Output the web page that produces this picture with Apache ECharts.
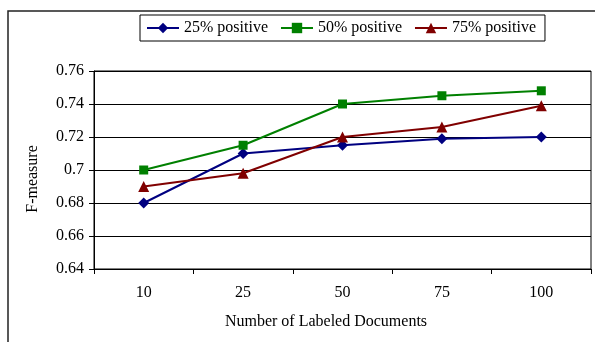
<!DOCTYPE html>
<html>
<head>
<meta charset="utf-8">
<script src="https://cdn.jsdelivr.net/npm/echarts@6/dist/echarts.min.js"></script>
<style>
  html, body { margin: 0; padding: 0; background: #fff; }
  #chart { width: 595px; height: 342px; }
</style>
</head>
<body>
<div id="chart"></div>
<script>
// Labeled-document counts on the x axis
var categories = ['10', '25', '50', '75', '100'];

// F-measure for each share of positive documents
var pos25 = [0.680, 0.710, 0.715, 0.719, 0.720];
var pos50 = [0.700, 0.715, 0.740, 0.745, 0.748];
var pos75 = [0.690, 0.698, 0.720, 0.726, 0.739];

var seriesNames = ['25% positive', '50% positive', '75% positive'];

var FONT = '"Liberation Serif", "Times New Roman", serif';

var chart = echarts.init(document.getElementById('chart'), null, { renderer: 'canvas' });

function lineSeries(name, data, color, symbol, size) {
  return {
    name: name,
    type: 'line',
    data: data,
    symbol: symbol,
    symbolSize: size,
    showAllSymbol: true,
    lineStyle: { color: color, width: 2 },
    itemStyle: { color: color },
    emphasis: { disabled: true },
    z: 3
  };
}

chart.setOption({
  animation: false,
  backgroundColor: '#fff',
  textStyle: { fontFamily: FONT },
  grid: {
    left: 94, right: 4, top: 71, bottom: 73,
    show: true, borderColor: '#000', borderWidth: 1
  },
  legend: {
    left: 140, top: 15,
    padding: [5, 9, 5, 6],
    borderColor: '#000', borderWidth: 1,
    itemWidth: 32, itemHeight: 13, itemGap: 12,
    textStyle: { fontFamily: FONT, fontSize: 16, color: '#000' },
    data: seriesNames
  },
  xAxis: {
    type: 'category',
    data: categories,
    boundaryGap: true,
    axisLine: { lineStyle: { color: '#000', width: 1 } },
    axisTick: { show: true, length: 5, lineStyle: { color: '#000' } },
    axisLabel: { margin: 16, color: '#000', fontFamily: FONT, fontSize: 16 },
    splitLine: { show: false }
  },
  yAxis: {
    type: 'value',
    min: 0.64, max: 0.76, interval: 0.02,
    axisLine: { show: true, lineStyle: { color: '#000', width: 1 } },
    axisTick: { show: true, length: 5, lineStyle: { color: '#000' } },
    axisLabel: {
      margin: 10, color: '#000', fontFamily: FONT, fontSize: 16,
      formatter: function (v) { return String(+v.toFixed(2)); }
    },
    splitLine: { show: true, lineStyle: { color: '#000', width: 1 } }
  },
  graphic: [
    {
      type: 'rect', silent: true, z: -1,
      shape: { x: 8, y: 11, width: 620, height: 360 },
      style: { fill: 'none', stroke: '#222', lineWidth: 1.5 }
    },
    {
      type: 'text', silent: true,
      x: 33, y: 179, rotation: Math.PI / 2,
      style: {
        text: 'F-measure', fill: '#000',
        font: '16px ' + FONT,
        textAlign: 'center', textVerticalAlign: 'middle'
      }
    },
    {
      type: 'text', silent: true,
      x: 326, y: 322,
      style: {
        text: 'Number of Labeled Documents', fill: '#000',
        font: '16px ' + FONT,
        textAlign: 'center', textVerticalAlign: 'middle'
      }
    }
  ],
  series: [
    lineSeries(seriesNames[0], pos25, '#000080', 'diamond', 11),
    lineSeries(seriesNames[1], pos50, '#008000', 'rect', 9),
    lineSeries(seriesNames[2], pos75, '#800000', 'triangle', 11)
  ]
});
</script>
</body>
</html>
